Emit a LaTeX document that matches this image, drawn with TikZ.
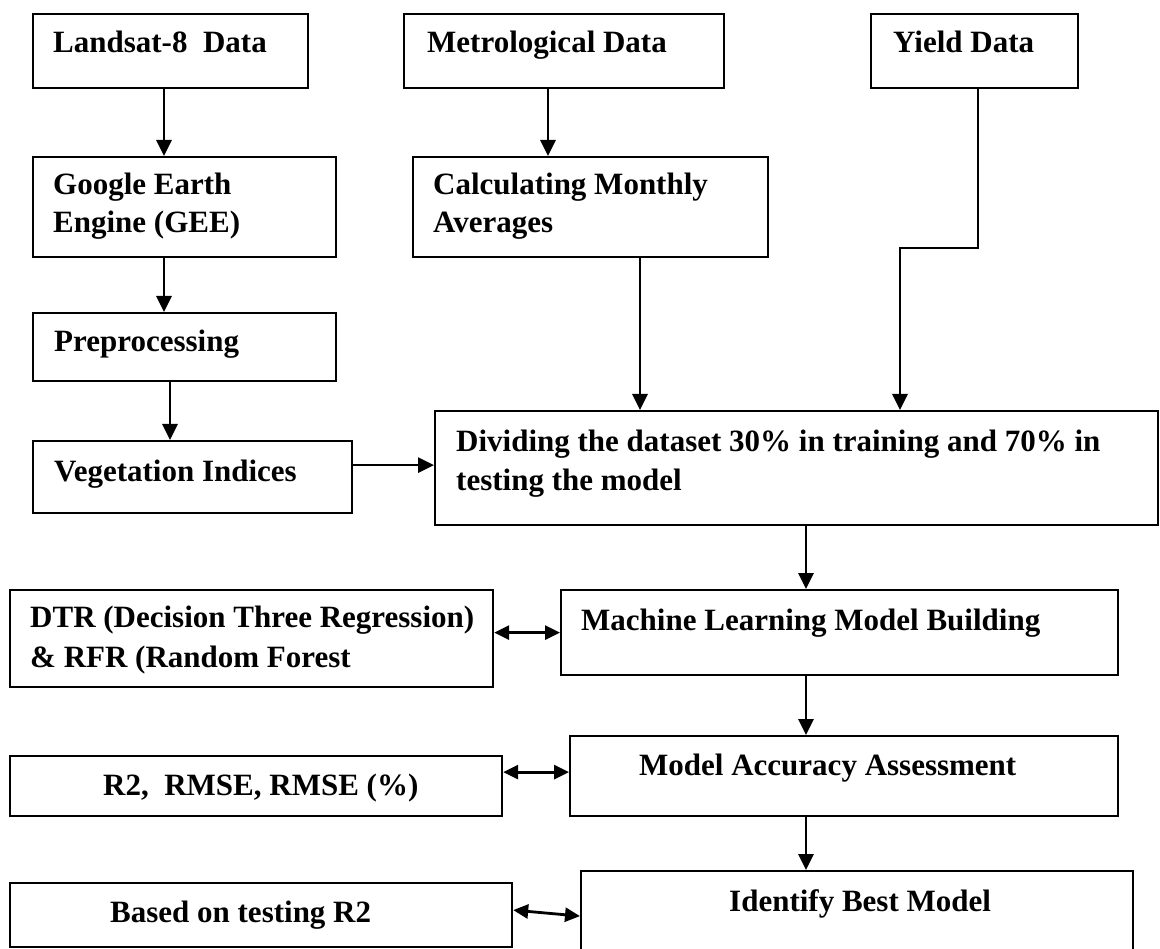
\documentclass[tikz,border=0pt]{standalone}
\usepackage{fontspec}
\setmainfont{Liberation Serif}
\usetikzlibrary{arrows.meta,calc}
\begin{document}
\begin{tikzpicture}[x=1pt,y=-1pt,
  box/.style={draw=black, line width=2.2pt, inner sep=0pt, anchor=north west},
  lbl/.style={anchor=base west, inner sep=0pt, font=\fontsize{31}{38}\selectfont\bfseries},
  arr/.style={line width=2.8pt, -{Triangle[length=16pt,width=15pt]}},
  darr/.style={line width=2.8pt, {Triangle[length=15pt,width=14pt]}-{Triangle[length=15pt,width=14pt]}}]
\useasboundingbox (0,0) rectangle (1160,949);
\fill[white] (0,0) rectangle (1160,949);
\clip (0,0) rectangle (1160,949);
% boxes
\node[box, minimum width=275pt, minimum height=74pt] (landsat) at (32,13) {};
\node[box, minimum width=320pt, minimum height=74pt] (metro) at (403,13) {};
\node[box, minimum width=207pt, minimum height=74pt] (yield) at (870,13) {};
\node[box, minimum width=303pt, minimum height=100pt] (gee) at (32,156) {};
\node[box, minimum width=355pt, minimum height=100pt] (calc) at (412,156) {};
\node[box, minimum width=303pt, minimum height=68pt] (pre) at (32,312) {};
\node[box, minimum width=319pt, minimum height=72pt] (veg) at (32,440) {};
\node[box, minimum width=723pt, minimum height=114pt] (div) at (434,410) {};
\node[box, minimum width=483pt, minimum height=97pt] (dtr) at (9,589) {};
\node[box, minimum width=557pt, minimum height=85pt] (ml) at (560,589) {};
\node[box, minimum width=492pt, minimum height=60pt] (r2) at (9,755) {};
\node[box, minimum width=548pt, minimum height=80pt] (ma) at (569,735) {};
\node[box, minimum width=502pt, minimum height=64pt] (based) at (9,882) {};
\node[box, minimum width=552pt, minimum height=90pt] (id) at (580,870) {};
% texts
\node[lbl] (t-landsat) at (53,53) {Landsat-8\ \ Data};
\node[lbl] (t-metro) at (427,53) {Metrological Data};
\node[lbl] (t-yield) at (893,53) {Yield Data};
\node[lbl] (t-gee1) at (53,195) {Google Earth};
\node[lbl] (t-gee2) at (53,233) {Engine (GEE)};
\node[lbl] (t-calc1) at (433,195) {Calculating Monthly};
\node[lbl] (t-calc2) at (433,233) {Averages};
\node[lbl] (t-pre) at (54,352) {Preprocessing};
\node[lbl] (t-veg) at (54,482) {Vegetation Indices};
\node[lbl] (t-div1) at (456,452) {Dividing the dataset 30\% in training and 70\% in};
\node[lbl] (t-div2) at (456,490) {testing the model};
\node[lbl] (t-dtr1) at (30,627) {DTR (Decision Three Regression)};
\node[lbl] (t-dtr2) at (30,667) {\& RFR (Random Forest};
\node[lbl] (t-ml) at (581,630) {Machine Learning Model Building};
\node[lbl] (t-r2) at (103,795) {R2,\ \ RMSE, RMSE (\%)};
\node[lbl] (t-ma) at (639,775) {Model Accuracy Assessment};
\node[lbl] (t-based) at (110,922) {Based on testing R2};
\node[lbl] (t-id) at (729,911) {Identify Best Model};
% connectors
\coordinate (c1) at ([xshift=132pt]landsat.south west);
\draw[arr] (c1) -- (c1 |- gee.north);
\coordinate (c2) at ([xshift=132pt]gee.south west);
\draw[arr] (c2) -- (c2 |- pre.north);
\coordinate (c3) at ([xshift=138pt]pre.south west);
\draw[arr] (c3) -- (c3 |- veg.north);
\coordinate (c4) at ([xshift=145pt]metro.south west);
\draw[arr] (c4) -- (c4 |- calc.north);
\coordinate (c5) at ([xshift=228pt]calc.south west);
\draw[arr] (c5) -- (c5 |- div.north);
\coordinate (c6) at ([xshift=108pt]yield.south west);
\coordinate (yb) at (900,248);
\draw[arr] (c6) |- (yb) -- (yb |- div.north);
\coordinate (c7) at ([yshift=12pt]veg.east);
\draw[arr] (c7) -- (c7 -| div.west);
\coordinate (c8) at ([xshift=372pt]div.south west);
\draw[arr] (c8) -- (c8 |- ml.north);
\coordinate (c9) at (c8 |- ml.south);
\draw[arr] (c9) -- (c9 |- ma.north);
\coordinate (c10) at (c8 |- ma.south);
\draw[arr] (c10) -- (c10 |- id.north);
\draw[darr] (ml.west -| dtr.east) -- (ml.west);
\coordinate (c11) at ([yshift=4pt]ma.west);
\draw[darr] (c11 -| r2.east) -- (c11);
\draw[darr] ([yshift=5pt]based.east) -- (id.west);
\end{tikzpicture}
\end{document}
